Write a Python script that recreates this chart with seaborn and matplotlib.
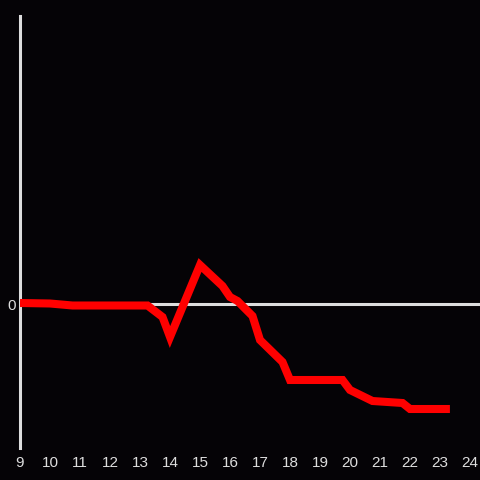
import matplotlib
matplotlib.use("Agg")
import matplotlib.pyplot as plt
import seaborn as sns
import pandas as pd

hours = [9, 10, 10.75, 13.25, 13.75, 14, 15, 15.75, 16, 16.25, 16.75, 17,
         17.75, 18, 19.75, 20, 20.75, 21.75, 22, 23.33]
values = [0.1, 0.05, -0.15, -0.15, -1.3, -3.3, 3.9, 1.8, 0.7, 0.3, -1.2, -3.6,
          -5.8, -7.6, -7.6, -8.6, -9.7, -9.9, -10.5, -10.5]
xticks = list(range(9, 25))
yticks = [0]

bg = "#050306"
fg = "#dddddd"

sns.set_theme(style="white")
df = pd.DataFrame({"hour": hours, "value": values})

fig = plt.figure(figsize=(4.8, 4.8), dpi=100, facecolor=bg)
ax = fig.add_axes([20/480, 32/480, 460/480, 432/480])
ax.set_facecolor(bg)

ax.axhline(0, color=fg, lw=2.2, zorder=1)
sns.lineplot(data=df, x="hour", y="value", ax=ax, color="#ff0000", lw=5.8,
             solid_joinstyle="miter", solid_capstyle="butt", zorder=3)

ax.set_xlim(9, 24.333)
ax.set_ylim(-14.4, 28.8)
ax.set_xticks(xticks)
ax.set_xticklabels([str(t) for t in xticks])
ax.set_yticks(yticks)
ax.set_yticklabels(["0"])
ax.tick_params(axis="both", length=0, colors=fg, labelsize=11,
               labelfontfamily="Liberation Sans")
ax.tick_params(axis="x", pad=6)
ax.tick_params(axis="y", pad=3)
ax.set_xlabel("")
ax.set_ylabel("")
for s in ["top", "right", "bottom"]:
    ax.spines[s].set_visible(False)
ax.spines["left"].set_color(fg)
ax.spines["left"].set_linewidth(2.2)
ax.grid(False)

fig.savefig("out.png", dpi=100, facecolor=bg)
